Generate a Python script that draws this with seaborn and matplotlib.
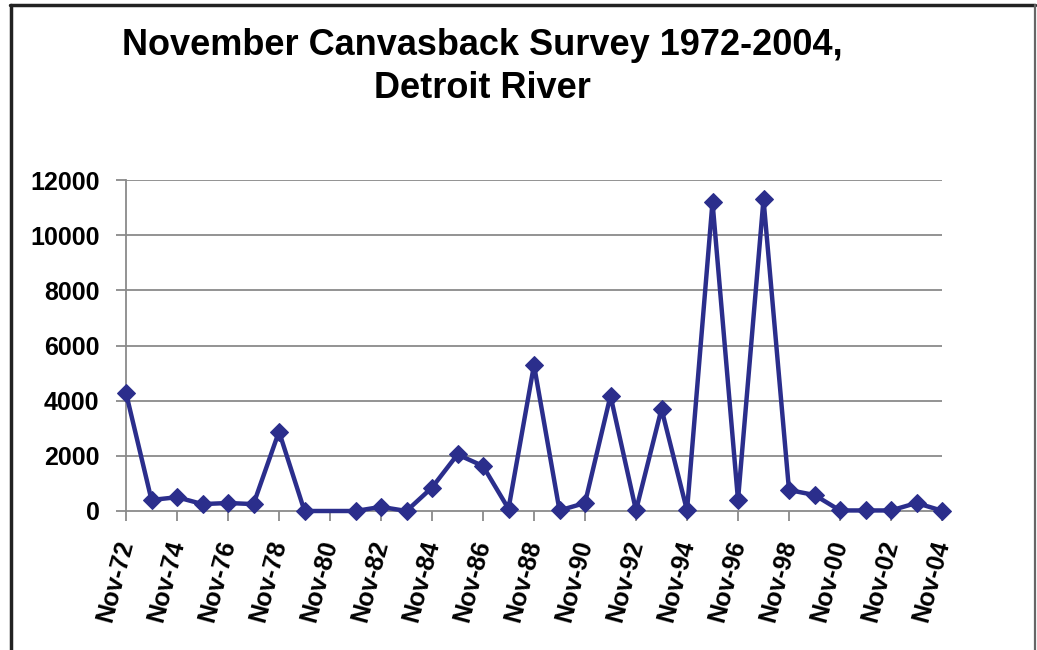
import numpy as np
import pandas as pd
import matplotlib
matplotlib.use("Agg")
import matplotlib.pyplot as plt
from matplotlib.lines import Line2D
import seaborn as sns

# November survey counts, Detroit River (1980 not surveyed)
years = list(range(1972, 2005))
counts = [4280, 400, 500, 250, 290, 250, 2880, 0, None, 0, 150, 0,
          850, 2050, 1630, 80, 5290, 20, 290, 4180, 20, 3700, 20,
          11200, 400, 11300, 760, 580, 20, 20, 20, 290, 10]
tick_years = list(range(1972, 2005, 2))
tick_labels = [f"Nov-{y % 100:02d}" for y in tick_years]
y_ticks = [0, 2000, 4000, 6000, 8000, 10000, 12000]
title = "November Canvasback Survey 1972-2004,\nDetroit River"

sns.set_style("white")
plt.rcParams["font.family"] = ["Liberation Sans", "DejaVu Sans"]
plt.rcParams["text.color"] = "black"
plt.rcParams["xtick.color"] = "black"
plt.rcParams["ytick.color"] = "black"

df = pd.DataFrame({"year": years, "count": counts}).dropna()

W, H = 1037, 650
fig = plt.figure(figsize=(W / 100, H / 100), dpi=100)
ax = fig.add_axes([126 / W, 1 - 511 / H, (942 - 126) / W, (511 - 180) / H])

line_color = "#2b2e8c"
sns.lineplot(data=df, x="year", y="count", ax=ax, color=line_color,
             linewidth=3.2, marker="D", markersize=9.5,
             markeredgecolor=line_color, markerfacecolor=line_color,
             clip_on=False, zorder=3)

ax.set_xlim(1972, 2004)
ax.set_ylim(0, 12000)
ax.set_yticks(y_ticks)
ax.set_yticklabels([str(v) for v in y_ticks], fontsize=18, fontweight="bold")
ax.set_xticks(tick_years)
ax.set_xticklabels(tick_labels, fontsize=18, fontweight="bold",
                   rotation=75, ha="right", va="center",
                   rotation_mode="anchor")
ax.set_xlabel("")
ax.set_ylabel("")

grid_color = "#8a8a8a"
for v in y_ticks[1:]:
    ax.axhline(v, color=grid_color, linewidth=1.3, zorder=0)

for side in ["top", "right"]:
    ax.spines[side].set_visible(False)
for side in ["left", "bottom"]:
    ax.spines[side].set_color(grid_color)
    ax.spines[side].set_linewidth(1.3)

ax.tick_params(axis="y", direction="out", length=7, width=1.3,
               color=grid_color, labelcolor="black", pad=12, left=True)
ax.tick_params(axis="x", direction="out", length=7, width=1.3,
               color=grid_color, labelcolor="black", pad=14, bottom=True)

fig.text(482 / W, 1 - 67 / H, title, ha="center", va="center",
         fontsize=26, fontweight="bold", linespacing=1.3, color="black")

# Chart frame
fig.add_artist(Line2D([11 / W, 11 / W], [0, 1 - 5 / H], transform=fig.transFigure,
                      color="#222222", linewidth=2.5))
fig.add_artist(Line2D([10 / W, 1035 / W], [1 - 5 / H, 1 - 5 / H],
                      transform=fig.transFigure, color="#222222", linewidth=2.5))
fig.add_artist(Line2D([1035 / W, 1035 / W], [0, 1 - 5 / H], transform=fig.transFigure,
                      color="#666666", linewidth=1.6))

fig.savefig("out.png", dpi=100)
